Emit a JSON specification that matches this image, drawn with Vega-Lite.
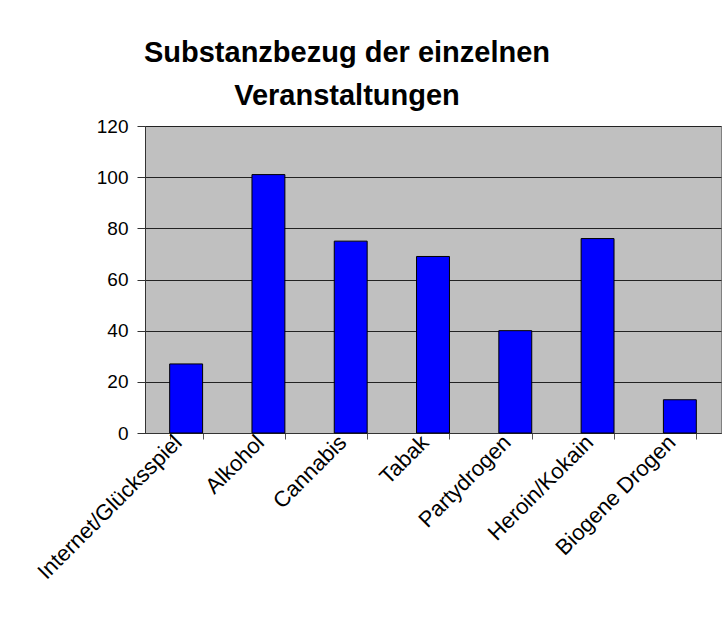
{
  "$schema": "https://vega.github.io/schema/vega-lite/v6.json",
  "width": 576,
  "height": 307,
  "autosize": {"type": "none"},
  "padding": {"left": 145, "top": 126, "right": 2, "bottom": 188},
  "background": "white",
  "title": {
    "text": ["Substanzbezug der einzelnen", "Veranstaltungen"],
    "font": "Liberation Sans",
    "fontSize": 29,
    "fontWeight": "bold",
    "color": "black",
    "anchor": "middle",
    "dx": -86,
    "lineHeight": 43,
    "offset": 6
  },
  "data": {
    "values": [
      {"Substanz": "Internet/Glücksspiel", "Anzahl": 27},
      {"Substanz": "Alkohol", "Anzahl": 101},
      {"Substanz": "Cannabis", "Anzahl": 75},
      {"Substanz": "Tabak", "Anzahl": 69},
      {"Substanz": "Partydrogen", "Anzahl": 40},
      {"Substanz": "Heroin/Kokain", "Anzahl": 76},
      {"Substanz": "Biogene Drogen", "Anzahl": 13}
    ]
  },
  "mark": {"type": "bar", "color": "#0000ff", "stroke": "black", "strokeWidth": 1},
  "encoding": {
    "x": {
      "field": "Substanz",
      "type": "nominal",
      "sort": null,
      "scale": {"paddingInner": 0.6, "paddingOuter": 0.3},
      "axis": {
        "title": null,
        "labelAngle": -45,
        "labelAlign": "right",
        "labelBaseline": "bottom",
        "labelLimit": 0,
        "tickBand": "extent",
        "labelFont": "Liberation Sans",
        "labelFontSize": 22,
        "labelColor": "black",
        "labelPadding": 8,
        "tickSize": 6,
        "tickColor": "#555555",
        "domainColor": "#333333",
        "grid": false
      }
    },
    "y": {
      "field": "Anzahl",
      "type": "quantitative",
      "scale": {"domain": [0, 120]},
      "axis": {
        "title": null,
        "values": [0, 20, 40, 60, 80, 100, 120],
        "labelFont": "Liberation Sans",
        "labelFontSize": 19,
        "labelColor": "black",
        "labelPadding": 9,
        "tickSize": 8,
        "tickColor": "#333333",
        "domainColor": "#333333",
        "grid": true,
        "gridColor": "#222222",
        "gridOpacity": 1
      }
    }
  },
  "config": {
    "view": {"fill": "#c0c0c0", "stroke": "#808080", "strokeWidth": 1}
  }
}
